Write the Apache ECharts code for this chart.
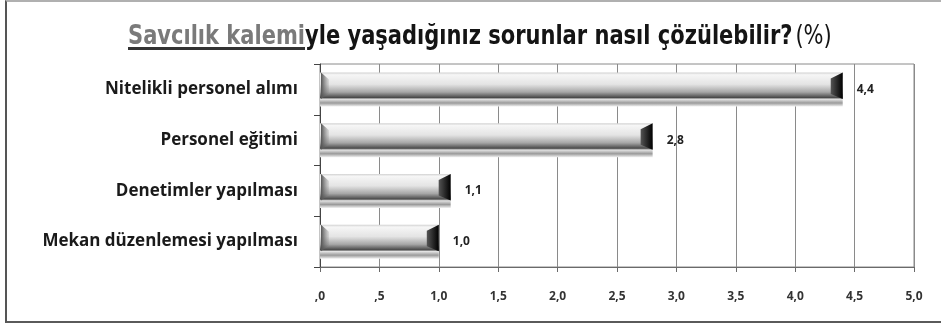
<!DOCTYPE html>
<html>
<head>
<meta charset="utf-8">
<script src="https://cdn.jsdelivr.net/npm/echarts@6/dist/echarts.min.js"></script>
<style>
  html, body { margin: 0; padding: 0; background: #fff; }
  #chart { width: 941px; height: 326px; }
  #frame {
    position: absolute; left: 5px; top: 0; width: 960px; height: 319px;
    border-top: 2px solid #b0b0b0; border-left: 2px solid #555; border-bottom: 2px solid #5a5a5a;
    pointer-events: none;
  }
</style>
</head>
<body>
<div id="chart"></div>
<div id="frame"></div>
<script>
const categories = ["Mekan düzenlemesi yapılması", "Denetimler yapılması", "Personel eğitimi", "Nitelikli personel alımı"];
const values = [1.0, 1.1, 2.8, 4.4];
const xTicks = { min: 0, max: 5, interval: 0.5 };

const titleFont = "'DejaVu Sans Condensed', sans-serif";

const fmt = v => {
  let s = v.toFixed(1).replace(".", ",");
  return s.startsWith("0,") ? s.slice(1) : s;
};

let chart = echarts.init(document.getElementById("chart"), null, { renderer: "canvas" });

// metallic look of the bars
const barFill = new echarts.graphic.LinearGradient(0, 0, 0, 1, [
  { offset: 0, color: "#cfcfcf" },
  { offset: 0.07, color: "#f6f6f6" },
  { offset: 0.35, color: "#e4e4e4" },
  { offset: 0.58, color: "#a6a6a6" },
  { offset: 0.74, color: "#4a4a4a" },
  { offset: 0.79, color: "#e2e2e2" },
  { offset: 0.9, color: "#9a9a9a" },
  { offset: 1, color: "#eeeeee" }
]);

function caps(params, api) {
  const end = api.coord([api.value(0), api.value(1)]);
  const start = api.coord([0, api.value(1)]);
  const h = 34;
  const y0 = end[1] - h / 2, y1 = y0 + h * 0.78;
  const w = 12;
  return {
    type: "group",
    children: [
      {
        type: "polygon",
        shape: { points: [[end[0] - w, y0 + 6], [end[0], y0], [end[0], y1], [end[0] - w, y1 - 5]] },
        style: { fill: new echarts.graphic.LinearGradient(0, 0, 1, 0, [
          { offset: 0, color: "#555" }, { offset: 1, color: "#000" }]) }
      },
      {
        type: "polygon",
        shape: { points: [[start[0] + 1, y0], [start[0] + 9, y0 + 7], [start[0] + 9, y1 - 6], [start[0] + 1, y1]] },
        style: { fill: new echarts.graphic.LinearGradient(0, 0, 1, 0, [
          { offset: 0, color: "#555" }, { offset: 1, color: "rgba(120,120,120,0.15)" }]) }
      }
    ]
  };
}

chart.setOption({
  animation: false,
  graphic: [
    {
      type: "text",
      x: 128, y: 37, scaleX: 0.865,
      style: {
        text: "{g|Savcılık kalemi}{b|yle yaşadığınız sorunlar nasıl çözülebilir?} {n|(%)}",
        verticalAlign: "middle",
        rich: {
          g: { fontFamily: titleFont, fontWeight: "bold", fontSize: 27, fill: "#7a7a7a" },
          b: { fontFamily: titleFont, fontWeight: "bold", fontSize: 27, fill: "#141414" },
          n: { fontFamily: titleFont, fontSize: 27, fill: "#141414" }
        }
      }
    },
    { type: "rect", left: 128, top: 47, shape: { width: 177, height: 3 }, style: { fill: "#333" } }
  ],
  grid: { left: 320, right: 27, top: 64, bottom: 59, show: true, borderColor: "#8a8a8a", borderWidth: 1 },
  xAxis: {
    type: "value",
    min: xTicks.min, max: xTicks.max, interval: xTicks.interval,
    axisLine: { show: true, lineStyle: { color: "#6a6a6a" } },
    axisTick: { show: true, length: 5, lineStyle: { color: "#6a6a6a" } },
    splitLine: { show: true, lineStyle: { color: "#8a8a8a" } },
    axisLabel: { margin: 24, formatter: fmt, color: "#333", fontSize: 12, fontWeight: "bold", fontFamily: "Open Sans" }
  },
  yAxis: {
    type: "category",
    data: categories,
    axisLine: { show: true, lineStyle: { color: "#444" } },
    axisTick: { show: true, length: 6, lineStyle: { color: "#444" } },
    axisLabel: { margin: 22, color: "#1a1a1a", fontSize: 17, fontWeight: "bold", fontFamily: "Open Sans" }
  },
  series: [
    {
      type: "bar",
      data: values,
      barWidth: 34,
      itemStyle: { color: barFill },
      label: {
        show: true, position: "right", distance: 14,
        formatter: p => fmt(p.value),
        color: "#222", fontSize: 12, fontWeight: "bold", fontFamily: "Open Sans"
      }
    },
    {
      type: "custom",
      renderItem: caps,
      encode: { x: 0, y: 1 },
      data: values.map((v, i) => [v, i]),
      z: 3
    }
  ]
});
</script>
</body>
</html>
